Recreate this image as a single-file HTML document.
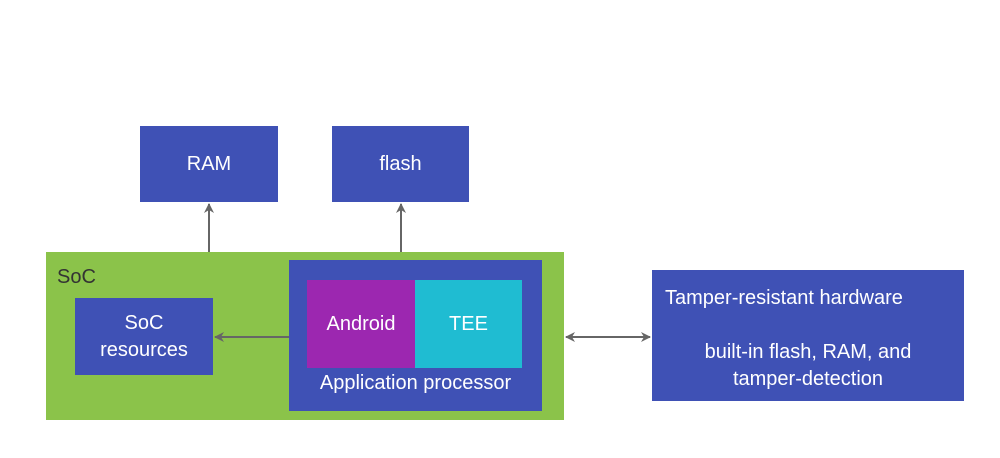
<!DOCTYPE html>
<html><head><style>
body{margin:0;width:1000px;height:458px;background:#fff;position:relative;overflow:hidden;font-family:"Liberation Sans",sans-serif}
.b{position:absolute;background:#3f51b5;color:#fff;display:flex;align-items:center;justify-content:center;text-align:center;font-size:20px;line-height:27px}
</style></head><body>
<div class="b" style="left:140px;top:126px;width:138px;height:76px">RAM</div>
<div class="b" style="left:332px;top:126px;width:137px;height:76px">flash</div>
<div style="position:absolute;left:46px;top:252px;width:518px;height:168px;background:#8bc34a"></div>
<div style="position:absolute;left:57px;top:266px;font-size:20px;color:#333">SoC</div>
<div class="b" style="left:75px;top:298px;width:138px;height:77px">SoC<br>resources</div>
<div class="b" style="left:289px;top:260px;width:253px;height:151px;align-items:flex-end;padding-bottom:0"></div>
<div class="b" style="left:307px;top:280px;width:108px;height:88px;background:#9c27b0">Android</div>
<div class="b" style="left:415px;top:280px;width:107px;height:88px;background:#1fbcd2">TEE</div>
<div style="position:absolute;left:289px;top:372px;width:253px;text-align:center;color:#fff;font-size:20px">Application processor</div>
<div class="b" style="left:652px;top:270px;width:312px;height:131px;display:block;text-align:left">
<div style="position:absolute;left:13px;top:15px">Tamper-resistant hardware</div>
<div style="position:absolute;left:0;width:312px;text-align:center;top:69px">built-in flash, RAM, and<br>tamper-detection</div></div>
<svg width="1000" height="458" style="position:absolute;left:0;top:0">
<defs><marker id="a" markerWidth="10" markerHeight="10" refX="9" refY="5" orient="auto-start-reverse" markerUnits="userSpaceOnUse"><path d="M0,0 L10,5 L0,10 L3,5z" fill="#666"/></marker></defs>
<g stroke="#666" stroke-width="2" fill="none">
<line x1="209" y1="252" x2="209" y2="204" marker-end="url(#a)"/>
<line x1="401" y1="252" x2="401" y2="204" marker-end="url(#a)"/>
<line x1="289" y1="337" x2="215" y2="337" marker-end="url(#a)"/>
<line x1="566" y1="337" x2="650" y2="337" marker-start="url(#a)" marker-end="url(#a)"/>
</g></svg>
</body></html>
